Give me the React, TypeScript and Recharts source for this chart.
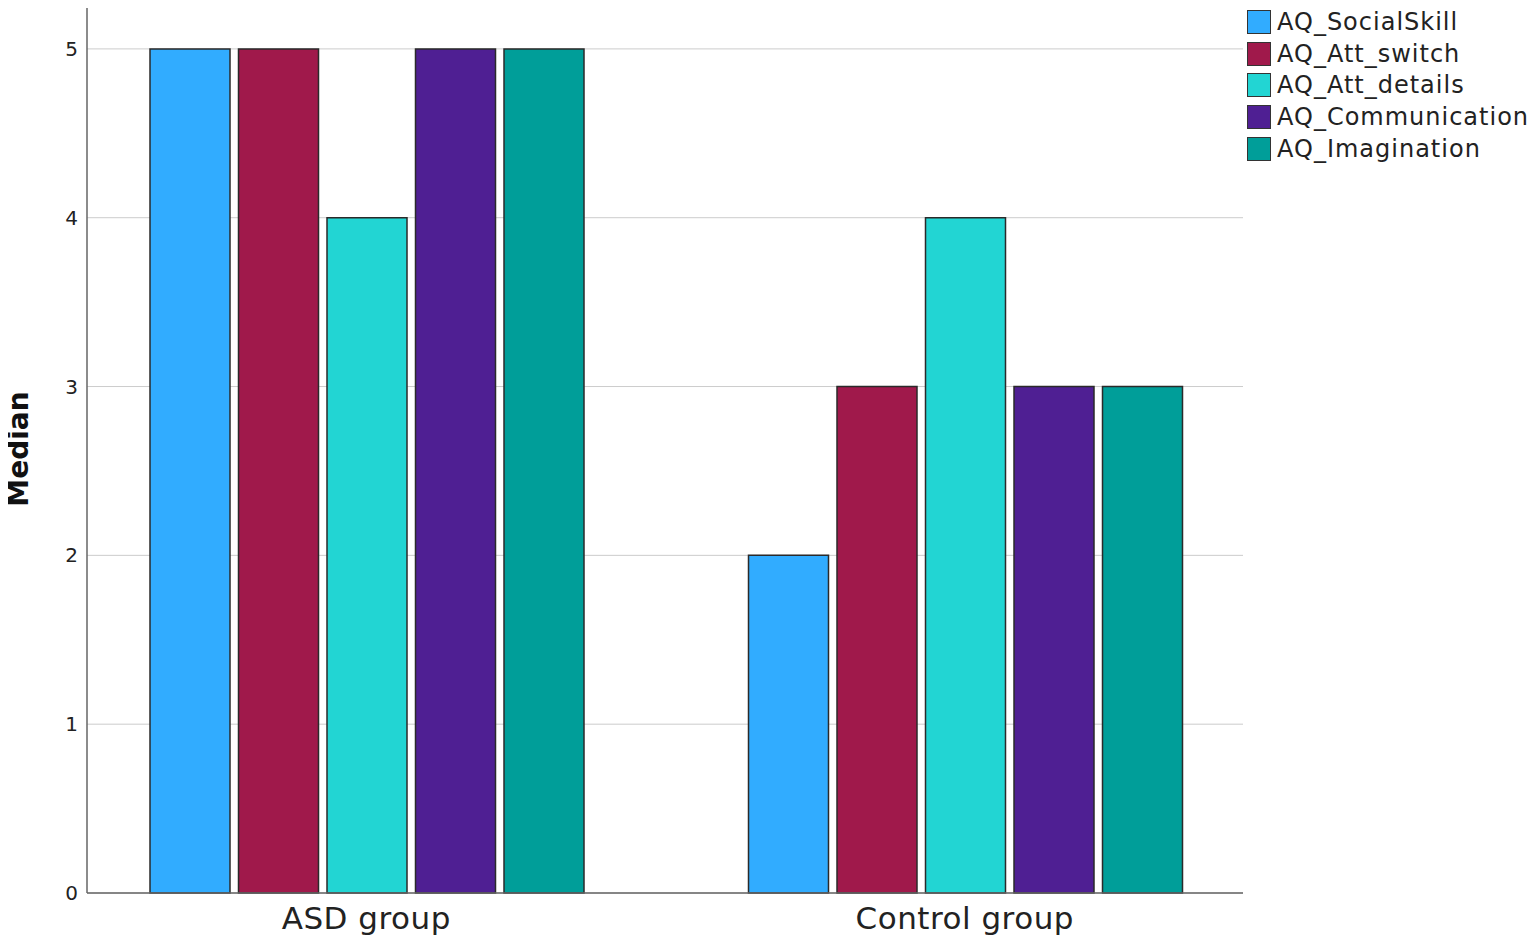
import { BarChart, Bar, XAxis, YAxis, CartesianGrid, Legend } from "recharts";

const categories = ["ASD group", "Control group"];
const socialSkill = [5, 2];
const attSwitch = [5, 3];
const attDetails = [4, 4];
const communication = [5, 3];
const imagination = [5, 3];
const yTicks = [0, 1, 2, 3, 4, 5];

const SERIES = [
  { key: "social", name: "AQ_SocialSkill", color: "#31acff", values: socialSkill },
  { key: "switch", name: "AQ_Att_switch", color: "#a0194b", values: attSwitch },
  { key: "details", name: "AQ_Att_details", color: "#22d5d3", values: attDetails },
  { key: "comm", name: "AQ_Communication", color: "#4f1f93", values: communication },
  { key: "imag", name: "AQ_Imagination", color: "#009e99", values: imagination },
];

const data = categories.map((group, i) => {
  const row: Record<string, string | number> = { group };
  SERIES.forEach((s) => {
    row[s.key] = s.values[i];
  });
  return row;
});

const FONT = "'DejaVu Sans', Verdana, sans-serif";

function LegendBox() {
  return (
    <div style={{ fontFamily: FONT }}>
      {SERIES.map((s) => (
        <div
          key={s.key}
          style={{ display: "flex", alignItems: "center", height: 31.8 }}
        >
          <span
            style={{
              width: 22,
              height: 22,
              background: s.color,
              border: "1.5px solid #333",
              marginRight: 6,
              flexShrink: 0,
            }}
          />
          <span
            style={{
              fontSize: 24,
              letterSpacing: 1,
              color: "#222",
              whiteSpace: "nowrap",
            }}
          >
            {s.name}
          </span>
        </div>
      ))}
    </div>
  );
}

export default function App() {
  return (
    <div style={{ margin: -8, width: 1535, height: 945, background: "#fff" }}>
      <BarChart
        width={1535}
        height={945}
        data={data}
        margin={{ top: 5, right: 292, bottom: 0, left: 0 }}
        barCategoryGap={83}
        barGap={8.5}
      >
        <CartesianGrid vertical={false} stroke="#cccccc" />
        <XAxis
          dataKey="group"
          height={52}
          padding={{ left: -20, right: -21 }}
          axisLine={{ stroke: "#666", strokeWidth: 1.5 }}
          tickLine={false}
          tickMargin={8}
          tick={{ fontSize: 31, fill: "#222", fontFamily: FONT, letterSpacing: 0.5 }}
        />
        <YAxis
          width={87}
          domain={[0, 5.26]}
          ticks={yTicks}
          axisLine={{ stroke: "#666", strokeWidth: 1.5 }}
          tickLine={false}
          tickMargin={3}
          tick={{ fontSize: 20, fill: "#222", fontFamily: FONT }}
          label={{
            value: "Median",
            angle: -90,
            position: "center",
            dx: -25,
            style: { fontSize: 28, fontWeight: "bold", fill: "#111", fontFamily: FONT },
          }}
        />
        <Legend
          layout="vertical"
          align="center"
          verticalAlign="middle"
          content={() => <LegendBox />}
          wrapperStyle={{ top: 6, left: 1247, width: 290 }}
        />
        {SERIES.map((s) => (
          <Bar
            key={s.key}
            dataKey={s.key}
            name={s.name}
            fill={s.color}
            stroke="#2a2a2a"
            strokeWidth={1.5}
            isAnimationActive={false}
          />
        ))}
      </BarChart>
    </div>
  );
}
